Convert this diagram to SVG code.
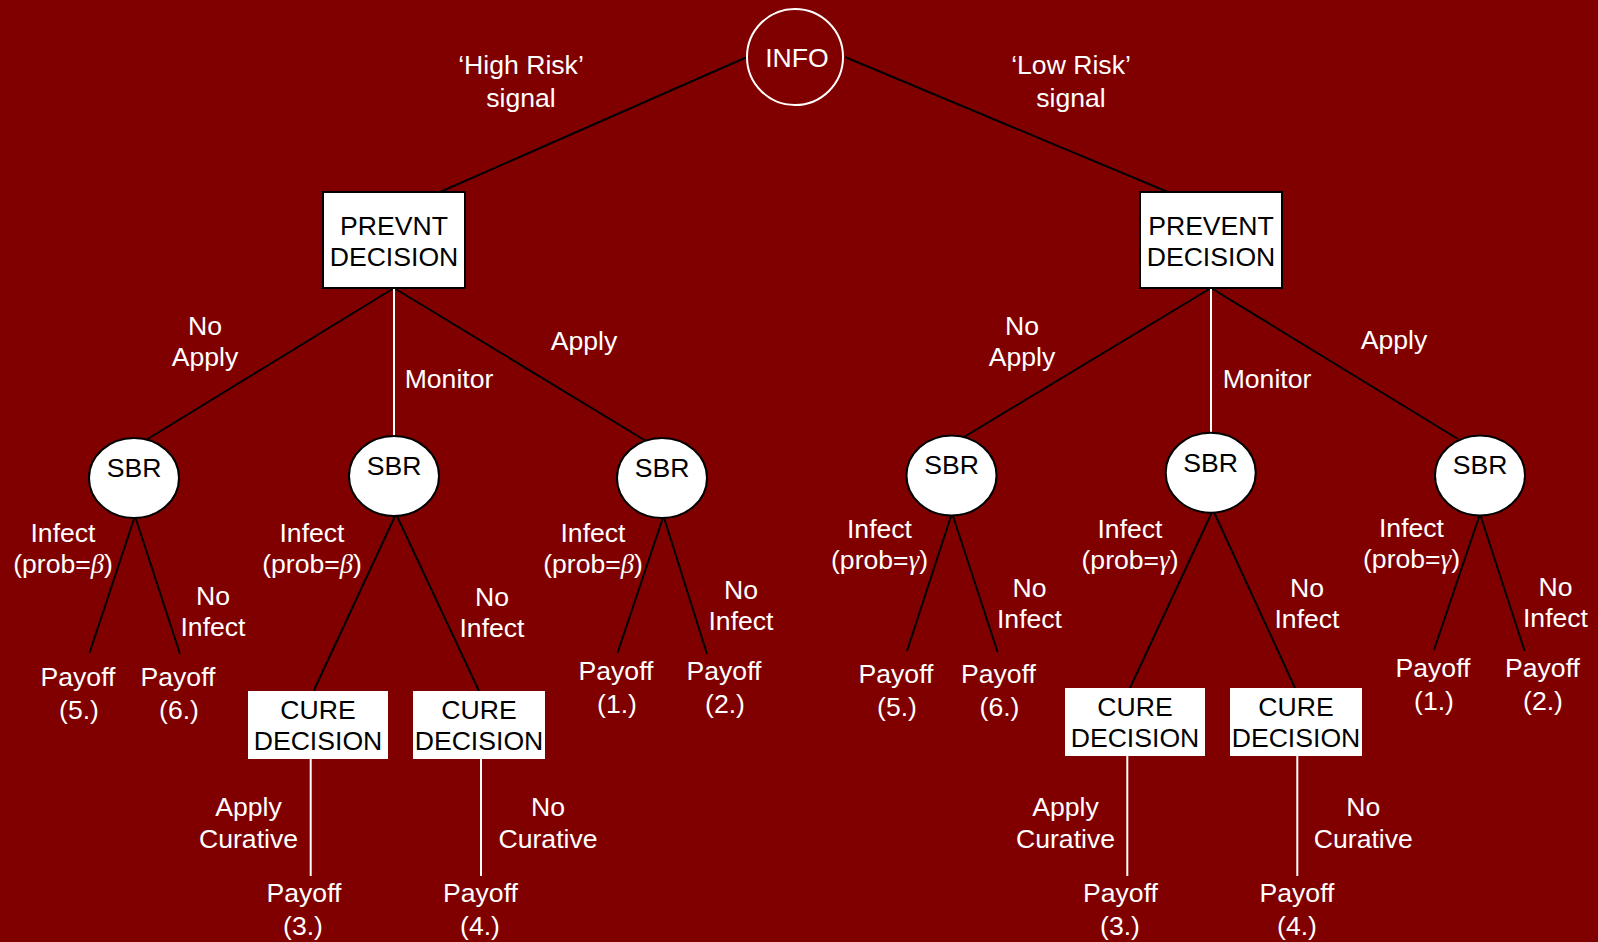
<svg xmlns="http://www.w3.org/2000/svg" width="1598" height="942" viewBox="0 0 1598 942">
<style>
text{font-family:"Liberation Sans",Arial,sans-serif;font-size:26.6px;text-anchor:middle}
.lbl{fill:#ffffff}
.nt{fill:#000000}
.gk{font-family:"Liberation Serif","Times New Roman",serif;font-style:italic}
.bl{stroke:#000000;stroke-width:2;fill:none}
.wl{stroke:#ffffff;stroke-width:2;fill:none}
.node{fill:#ffffff;stroke:#000000;stroke-width:2}
.cure{fill:#ffffff;stroke:none}
</style>
<rect x="0" y="0" width="1598" height="942" fill="#800000"/>
<g id="connectors">
<line class="bl" x1="747" y1="57" x2="440" y2="192"/>
<line class="bl" x1="845" y1="57" x2="1168" y2="192"/>
<line class="bl" x1="394" y1="288" x2="146" y2="440"/>
<line class="bl" x1="394" y1="288" x2="646" y2="441"/>
<line class="wl" x1="394" y1="288" x2="394" y2="437"/>
<line class="bl" x1="1211" y1="288" x2="964" y2="437"/>
<line class="bl" x1="1211" y1="288" x2="1458" y2="439"/>
<line class="wl" x1="1211" y1="288" x2="1211" y2="433"/>
<line class="bl" x1="135" y1="516" x2="89.5" y2="653"/>
<line class="bl" x1="135" y1="516" x2="180" y2="654"/>
<line class="bl" x1="396" y1="514" x2="313.6" y2="691"/>
<line class="bl" x1="396" y1="514" x2="479" y2="691"/>
<line class="bl" x1="663.5" y1="516" x2="617.5" y2="653"/>
<line class="bl" x1="663.5" y1="516" x2="707" y2="654"/>
<line class="bl" x1="952" y1="513" x2="907" y2="651"/>
<line class="bl" x1="952" y1="513" x2="997.6" y2="652"/>
<line class="bl" x1="1213" y1="510" x2="1130" y2="688"/>
<line class="bl" x1="1213" y1="510" x2="1295" y2="688"/>
<line class="bl" x1="1480" y1="514" x2="1434" y2="650"/>
<line class="bl" x1="1480" y1="514" x2="1524.6" y2="651"/>
<line class="wl" x1="310.7" y1="759" x2="310.7" y2="876"/>
<line class="wl" x1="481" y1="759" x2="481" y2="876"/>
<line class="wl" x1="1127.3" y1="756" x2="1127.3" y2="876"/>
<line class="wl" x1="1297.3" y1="756" x2="1297.3" y2="876"/>
</g>
<g id="info">
<circle cx="795" cy="57" r="48" fill="#800000" stroke="#ffffff" stroke-width="2"/>
<text class="lbl" x="797" y="66.5">INFO</text>
</g>
<g id="prevent-high">
<rect class="node" x="323" y="192" width="142" height="96"/>
<text class="nt" x="394" y="235">PREVNT</text>
<text class="nt" x="394" y="265.5">DECISION</text>
</g>
<g id="prevent-low">
<rect class="node" x="1140" y="192" width="142" height="96"/>
<text class="nt" x="1211" y="235">PREVENT</text>
<text class="nt" x="1211" y="265.5">DECISION</text>
</g>
<g id="sbr1"><ellipse class="node" cx="134" cy="478" rx="45" ry="40"/><text class="nt" x="134" y="477">SBR</text></g>
<g id="sbr2"><ellipse class="node" cx="394" cy="476" rx="45" ry="40"/><text class="nt" x="394" y="475">SBR</text></g>
<g id="sbr3"><ellipse class="node" cx="662" cy="478" rx="45" ry="40"/><text class="nt" x="662" y="477">SBR</text></g>
<g id="sbr4"><ellipse class="node" cx="951.5" cy="475.5" rx="45" ry="40"/><text class="nt" x="951.5" y="474">SBR</text></g>
<g id="sbr5"><ellipse class="node" cx="1210.7" cy="472.7" rx="45" ry="40"/><text class="nt" x="1210.7" y="472">SBR</text></g>
<g id="sbr6"><ellipse class="node" cx="1480" cy="475.5" rx="45" ry="40"/><text class="nt" x="1480" y="474">SBR</text></g>
<g id="cure1"><rect class="cure" x="248" y="691" width="140" height="68"/><text class="nt" x="318" y="719">CURE</text><text class="nt" x="318" y="750">DECISION</text></g>
<g id="cure2"><rect class="cure" x="413" y="691" width="132" height="68"/><text class="nt" x="479" y="719">CURE</text><text class="nt" x="479" y="750">DECISION</text></g>
<g id="cure3"><rect class="cure" x="1065" y="688" width="140" height="68"/><text class="nt" x="1135" y="716">CURE</text><text class="nt" x="1135" y="747">DECISION</text></g>
<g id="cure4"><rect class="cure" x="1230" y="688" width="132" height="68"/><text class="nt" x="1296" y="716">CURE</text><text class="nt" x="1296" y="747">DECISION</text></g>
<g id="labels" class="lbl">
<text class="lbl" x="521" y="74">‘High Risk’</text><text class="lbl" x="521" y="107">signal</text>
<text class="lbl" x="1071" y="74">‘Low Risk’</text><text class="lbl" x="1071" y="107">signal</text>
<text class="lbl" x="205" y="335">No</text><text class="lbl" x="205" y="366">Apply</text>
<text class="lbl" x="449" y="388">Monitor</text>
<text class="lbl" x="584" y="350">Apply</text>
<text class="lbl" x="1022" y="335">No</text><text class="lbl" x="1022" y="366">Apply</text>
<text class="lbl" x="1267" y="388">Monitor</text>
<text class="lbl" x="1394" y="349">Apply</text>
<text class="lbl" x="63" y="542">Infect</text><text class="lbl" x="63" y="573">(prob=<tspan class="gk">β</tspan>)</text>
<text class="lbl" x="213" y="605">No</text><text class="lbl" x="213" y="636">Infect</text>
<text class="lbl" x="78" y="686">Payoff</text><text class="lbl" x="79" y="719">(5.)</text>
<text class="lbl" x="178" y="686">Payoff</text><text class="lbl" x="179" y="719">(6.)</text>
<text class="lbl" x="312" y="542">Infect</text><text class="lbl" x="312" y="573">(prob=<tspan class="gk">β</tspan>)</text>
<text class="lbl" x="492" y="606">No</text><text class="lbl" x="492" y="637">Infect</text>
<text class="lbl" x="593" y="542">Infect</text><text class="lbl" x="593" y="573">(prob=<tspan class="gk">β</tspan>)</text>
<text class="lbl" x="741" y="599">No</text><text class="lbl" x="741" y="630">Infect</text>
<text class="lbl" x="616" y="680">Payoff</text><text class="lbl" x="617" y="713">(1.)</text>
<text class="lbl" x="724" y="680">Payoff</text><text class="lbl" x="725" y="713">(2.)</text>
<text class="lbl" x="248.5" y="816">Apply</text><text class="lbl" x="248.5" y="848">Curative</text>
<text class="lbl" x="304" y="902">Payoff</text><text class="lbl" x="303" y="935">(3.)</text>
<text class="lbl" x="548" y="816">No</text><text class="lbl" x="548" y="848">Curative</text>
<text class="lbl" x="480.5" y="902">Payoff</text><text class="lbl" x="480" y="935">(4.)</text>
<text class="lbl" x="879.5" y="538">Infect</text><text class="lbl" x="879.5" y="569">(prob=<tspan class="gk">γ</tspan>)</text>
<text class="lbl" x="1029.5" y="597">No</text><text class="lbl" x="1029.5" y="628">Infect</text>
<text class="lbl" x="896" y="683">Payoff</text><text class="lbl" x="897" y="716">(5.)</text>
<text class="lbl" x="998.5" y="683">Payoff</text><text class="lbl" x="999.5" y="716">(6.)</text>
<text class="lbl" x="1130" y="538">Infect</text><text class="lbl" x="1130" y="569">(prob=<tspan class="gk">γ</tspan>)</text>
<text class="lbl" x="1307" y="597">No</text><text class="lbl" x="1307" y="628">Infect</text>
<text class="lbl" x="1411.5" y="537">Infect</text><text class="lbl" x="1411.5" y="568">(prob=<tspan class="gk">γ</tspan>)</text>
<text class="lbl" x="1555.5" y="596">No</text><text class="lbl" x="1555.5" y="627">Infect</text>
<text class="lbl" x="1433" y="677">Payoff</text><text class="lbl" x="1434" y="710">(1.)</text>
<text class="lbl" x="1542.5" y="677">Payoff</text><text class="lbl" x="1543" y="710">(2.)</text>
<text class="lbl" x="1065.5" y="816">Apply</text><text class="lbl" x="1065.5" y="848">Curative</text>
<text class="lbl" x="1120.5" y="902">Payoff</text><text class="lbl" x="1120" y="935">(3.)</text>
<text class="lbl" x="1363.3" y="816">No</text><text class="lbl" x="1363.3" y="848">Curative</text>
<text class="lbl" x="1297" y="902">Payoff</text><text class="lbl" x="1297" y="935">(4.)</text>
</g>
</svg>
